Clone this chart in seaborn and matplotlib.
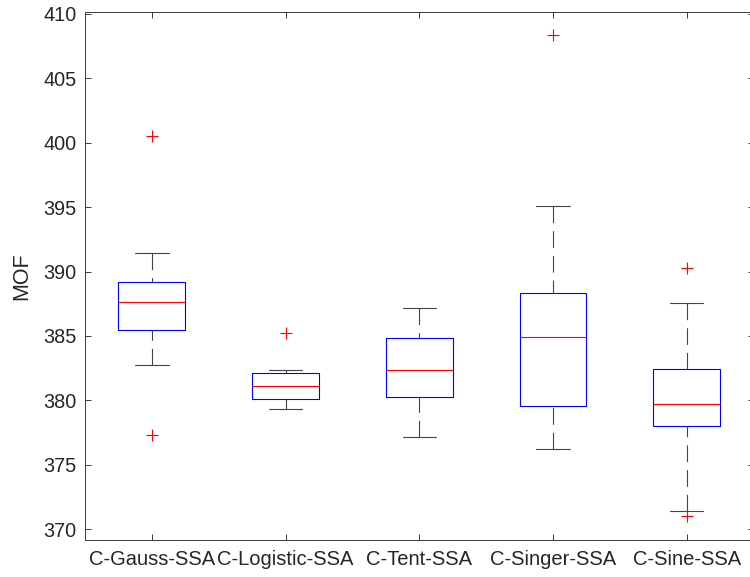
import matplotlib
matplotlib.use("Agg")
import matplotlib.pyplot as plt
import numpy as np
import pandas as pd
import seaborn as sns

# Box statistics per method (MOF)
methods = ["C-Gauss-SSA", "C-Logistic-SSA", "C-Tent-SSA", "C-Singer-SSA", "C-Sine-SSA"]
whisker_low = [382.73, 379.32, 377.19, 376.21, 371.44]
q1 = [385.47, 380.12, 380.27, 379.60, 378.00]
median = [387.67, 381.15, 382.34, 384.90, 379.73]
q3 = [389.20, 382.14, 384.85, 388.32, 382.47]
whisker_high = [391.43, 382.34, 387.18, 395.05, 387.55]
outliers = [[377.32, 400.48], [385.27], [], [408.35], [371.03, 390.31]]


def sample_from_stats(lo, a, m, b, hi, outs):
    """Nine-value sample whose quartiles, whiskers and fliers equal the given statistics."""
    lows = sorted(o for o in outs if o < a)
    highs = sorted(o for o in outs if o > b)
    bottom = lows + [lo]
    bottom += [a] * (3 - len(bottom))
    top = [b] * (2 - len(highs)) + [hi] + highs
    return bottom + [m] * 3 + top


rows = []
for i, name in enumerate(methods):
    vals = sample_from_stats(whisker_low[i], q1[i], median[i], q3[i],
                             whisker_high[i], outliers[i])
    rows += [(name, v) for v in vals]
df = pd.DataFrame(rows, columns=["method", "MOF"])

sns.set_theme(style="white")
plt.rcParams["font.family"] = ["Liberation Sans", "DejaVu Sans"]
plt.rcParams["lines.scale_dashes"] = False

axis_color = "#3a3a3a"
text_color = "#262626"
whisker_dash = (0, (12.0, 5.8))

fig = plt.figure(figsize=(7.5, 5.77), dpi=100)
ax = fig.add_axes([85 / 750, 37 / 577, 668.5 / 750, 528 / 577])

sns.boxplot(
    data=df, x="method", y="MOF", order=methods, ax=ax,
    fill=False, width=0.5, whis=1.5, linewidth=0.8, fliersize=8,
    color="blue",
    boxprops={"color": "#0000ff"},
    medianprops={"color": "#ff0000"},
    whiskerprops={"color": "#444444", "linestyle": whisker_dash},
    capprops={"color": "#444444"},
    flierprops={"marker": "+", "markeredgecolor": "#ff0000",
                "markeredgewidth": 0.8},
)

# Run the dash pattern of each whisker from its cap towards the box
for line in ax.lines:
    if line.get_linestyle() == "--":
        xd, yd = line.get_data()
        line.set_data(np.asarray(xd)[::-1], np.asarray(yd)[::-1])

ax.set_xlim(-0.5, 4.5)
ax.set_ylim(369.17, 410.14)
ax.set_yticks(np.arange(370, 411, 5))
ax.set_xlabel("")
ax.set_ylabel("MOF", fontsize=15.5, color=text_color, labelpad=8)

for s in ax.spines.values():
    s.set_visible(True)
    s.set_color(axis_color)
    s.set_linewidth(0.7)

ax.tick_params(axis="both", which="major", direction="in", length=4,
               width=0.7, color=axis_color,
               labelcolor=text_color, top=True, right=True,
               bottom=True, left=True)
ax.tick_params(axis="x", pad=7, labelsize=14.5)
ax.tick_params(axis="y", pad=6, labelsize=14.3)

fig.savefig("out.png", dpi=100)
